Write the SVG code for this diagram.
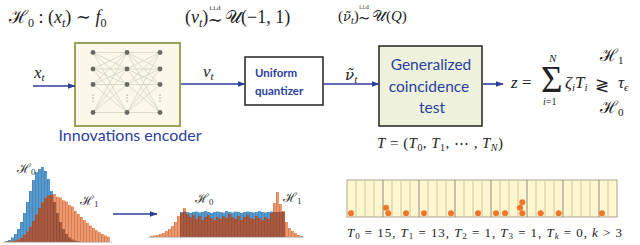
<svg xmlns="http://www.w3.org/2000/svg" width="640" height="245" viewBox="0 0 640 245">
<defs>
<style>
.m{font-family:"Liberation Serif","DejaVu Serif",serif;fill:#222}
.i{font-style:italic}
.dj{font-family:"DejaVu Serif",serif}
.blue{font-family:"Lato","DejaVu Sans",sans-serif;fill:#2b3f9e}
.box{stroke:#222;stroke-width:1.5}
.con{stroke:#2a3e9c;stroke-width:1.6;fill:none}
.nn{stroke:#c4cbb4;stroke-width:0.6}
.nd{fill:#6a6a64}
.cell{stroke:#c9c3a2;stroke-width:0.9}
.cell4{stroke:#8f8b78;stroke-width:1}
.dot{fill:#f27628}
.hb{fill:#4f9bd6}
.ho{fill:#ef966b}
.hr{fill:#a8593f}
.hl{font-family:"Liberation Serif","DejaVu Serif",serif;font-size:13px;fill:#333}
</style>
<pattern id="barsL" x="5" y="0" width="3" height="245" patternUnits="userSpaceOnUse">
<rect x="0" y="0" width="0.6" height="245" fill="#5a3020" fill-opacity="0.35"/>
</pattern>
<pattern id="barsR" x="0" y="0" width="3" height="245" patternUnits="userSpaceOnUse">
<rect x="0" y="0" width="0.6" height="245" fill="#5a3020" fill-opacity="0.35"/>
</pattern>
<marker id="ah" markerWidth="8" markerHeight="6" refX="7.5" refY="3" orient="auto" markerUnits="userSpaceOnUse">
<path d="M0,0 L8,3 L0,6 z" fill="#2a3e9c"/>
</marker>
</defs>
<rect width="640" height="245" fill="#ffffff"/>

<!-- top formulas -->
<g id="hyp">
<text class="m" x="9" y="23" font-size="18">ℋ<tspan font-size="12" dy="4">0</tspan><tspan dy="-4"> : (</tspan><tspan class="i">x</tspan><tspan class="i" font-size="12" dy="4">t</tspan><tspan dy="-4">) ∼ </tspan><tspan class="i">f</tspan><tspan font-size="12" dy="4">0</tspan></text>
</g>
<g id="nu-dist">
<text class="m" x="185" y="23" font-size="18">(<tspan class="i">ν</tspan><tspan class="i" font-size="12" dy="4">t</tspan><tspan dy="-4">)</tspan></text>
<text class="m" x="215" y="10" font-size="7" text-anchor="middle">i.i.d</text>
<text class="m" x="215" y="26" font-size="18" text-anchor="middle">∼</text>
<text class="m" x="225" y="23" font-size="18">𝒰(−1, 1)</text>
</g>
<g id="nutilde-dist">
<text class="m" x="338" y="21" font-size="15" fill="#444">(<tspan class="i dj" font-size="13">ν̃</tspan><tspan class="i" font-size="10" dy="3">t</tspan><tspan dy="-3">)</tspan></text>
<text class="m" x="364" y="9" font-size="6" text-anchor="middle" fill="#444">i.i.d</text>
<text class="m" x="364" y="23" font-size="15" text-anchor="middle" fill="#444">∼</text>
<text class="m" x="372" y="21" font-size="15" fill="#444">𝒰(<tspan class="i">Q</tspan>)</text>
</g>

<!-- encoder -->
<g id="encoder">
<rect x="75" y="43" width="105" height="83" fill="#fbf8e9" stroke="#9aa35a" stroke-width="2"/>
<g class="nn">
<path d="M93,52.5L127,52.5M93,52.5L127,69M93,52.5L127,84.5M93,52.5L127,112.5M93,69L127,52.5M93,69L127,69M93,69L127,84.5M93,69L127,112.5M93,84.5L127,52.5M93,84.5L127,69M93,84.5L127,84.5M93,84.5L127,112.5M93,112.5L127,52.5M93,112.5L127,69M93,112.5L127,84.5M93,112.5L127,112.5"/>
<path d="M127,52.5L160,52.5M127,52.5L160,69M127,52.5L160,84.5M127,52.5L160,112.5M127,69L160,52.5M127,69L160,69M127,69L160,84.5M127,69L160,112.5M127,84.5L160,52.5M127,84.5L160,69M127,84.5L160,84.5M127,84.5L160,112.5M127,112.5L160,52.5M127,112.5L160,69M127,112.5L160,84.5M127,112.5L160,112.5"/>
</g>
<g class="nd">
<circle cx="93" cy="52.5" r="2.4"/><circle cx="93" cy="69" r="2.4"/><circle cx="93" cy="84.5" r="2.4"/><circle cx="93" cy="112.5" r="2.4"/>
<circle cx="127" cy="52.5" r="2.4"/><circle cx="127" cy="69" r="2.4"/><circle cx="127" cy="84.5" r="2.4"/><circle cx="127" cy="112.5" r="2.4"/>
<circle cx="160" cy="52.5" r="2.4"/><circle cx="160" cy="69" r="2.4"/><circle cx="160" cy="84.5" r="2.4"/><circle cx="160" cy="112.5" r="2.4"/>
<circle cx="93" cy="95" r="0.6"/><circle cx="93" cy="98" r="0.6"/><circle cx="93" cy="101" r="0.6"/>
<circle cx="127" cy="95" r="0.6"/><circle cx="127" cy="98" r="0.6"/><circle cx="127" cy="101" r="0.6"/>
<circle cx="160" cy="95" r="0.6"/><circle cx="160" cy="98" r="0.6"/><circle cx="160" cy="101" r="0.6"/>
</g>
<text class="blue" x="130" y="141" font-size="16" text-anchor="middle" textLength="143" lengthAdjust="spacingAndGlyphs">Innovations encoder</text>
</g>

<!-- quantizer -->
<g id="quantizer">
<rect class="box" x="245" y="57" width="78" height="48" fill="#ffffff"/>
<text class="blue" x="255" y="77" font-size="11.5" font-weight="bold">Uniform</text>
<text class="blue" x="255" y="95" font-size="11.5" font-weight="bold">quantizer</text>
</g>

<!-- coincidence test -->
<g id="coincidence-test">
<rect class="box" x="379" y="46" width="103" height="80" fill="#eef2dc"/>
<text class="blue" x="431" y="70" font-size="15.5" text-anchor="middle">Generalized</text>
<text class="blue" x="429" y="92" font-size="15.5" text-anchor="middle">coincidence</text>
<text class="blue" x="432" y="113" font-size="15.5" text-anchor="middle">test</text>
<text class="m" x="377" y="148" font-size="15" textLength="126" lengthAdjust="spacing"><tspan class="i">T</tspan> = (<tspan class="i">T</tspan><tspan font-size="10" dy="3">0</tspan><tspan dy="-3">, </tspan><tspan class="i">T</tspan><tspan font-size="10" dy="3">1</tspan><tspan dy="-3">, ⋯ , </tspan><tspan class="i">T</tspan><tspan class="i" font-size="10" dy="3">N</tspan><tspan dy="-3">)</tspan></text>
</g>

<!-- decision statistic -->
<g id="statistic">
<text class="m i" x="511" y="88" font-size="17">z</text>
<text class="m" x="522" y="88" font-size="17">=</text>
<text class="m" x="541" y="92" font-size="37">Σ</text>
<text class="m i" x="549" y="62" font-size="11">N</text>
<text class="m" x="543" y="105" font-size="10"><tspan class="i">i</tspan>=1</text>
<text class="m" x="565" y="88" font-size="17"><tspan class="i">ζ</tspan><tspan class="i" font-size="11" dy="3">i</tspan><tspan class="i" dy="-3">T</tspan><tspan class="i" font-size="11" dy="3">i</tspan></text>
<text class="m" x="600" y="61" font-size="17">ℋ<tspan font-size="11" dy="3">1</tspan></text>
<text class="m" x="595" y="91" font-size="17">≷</text>
<text class="m i" x="618" y="88" font-size="17">τ<tspan font-size="11" dy="3">ϵ</tspan></text>
<text class="m" x="600" y="113" font-size="17">ℋ<tspan font-size="11" dy="3">0</tspan></text>
</g>

<!-- connectors -->
<g id="connectors">
<line class="con" x1="33" y1="86" x2="75" y2="86" marker-end="url(#ah)"/>
<line class="con" x1="181" y1="84" x2="245" y2="84" marker-end="url(#ah)"/>
<line class="con" x1="323" y1="84" x2="379" y2="84" marker-end="url(#ah)"/>
<line class="con" x1="483" y1="84" x2="503" y2="84" marker-end="url(#ah)"/>
<line class="con" x1="113" y1="214" x2="157" y2="214" marker-end="url(#ah)"/>
</g>
<g id="connector-labels">
<text class="m i" x="34" y="78" font-size="17">x<tspan font-size="11" dy="3">t</tspan></text>
<text class="m i" x="203" y="77" font-size="17">ν<tspan font-size="11" dy="3">t</tspan></text>
<text class="m i" x="345" y="80" font-size="17"><tspan class="dj" font-size="15">ν̃</tspan><tspan font-size="11" dy="3">t</tspan></text>
</g>

<!-- histogram before -->
<g id="hist-before">
<path class="hb" d="M5,242 V241 H8 V240 H11 V237.5 H14 V234 H17 V229 H20 V222 H23 V213 H26 V202 H29 V191 H32 V180 H35 V172 H38 V169 H41 V167 H44 V171 H47 V179 H50 V191 H53 V202 H56 V213 H59 V222 H62 V229 H65 V234 H68 V237.5 H71 V239.6 H74 V240.8 H77 V241.5 H80 V242 Z"/>
<path class="ho" d="M5,242 V241.8 H8 V241.6 H11 V241.3 H14 V240.6 H17 V239.5 H20 V237.7 H23 V235.1 H26 V231.5 H29 V226.7 H32 V221 H35 V214.6 H38 V208.1 H41 V202.2 H44 V197.7 H47 V195.3 H50 V195 H53 V194 H56 V196.7 H59 V197.5 H62 V200.2 H65 V201.5 H68 V205.1 H71 V206.5 H74 V211 H77 V214 H80 V217 H83 V220 H86 V222.8 H89 V225.5 H92 V228 H95 V230.2 H98 V232.2 H101 V233.9 H104 V235.4 H107 V236.7 H110 V242 Z"/>
<path class="hr" d="M5,242 V241.8 H8 V241.6 H11 V241.3 H14 V240.6 H17 V239.5 H20 V237.7 H23 V235.1 H26 V231.5 H29 V226.7 H32 V221 H35 V214.6 H38 V208.1 H41 V202.2 H44 V197.7 H47 V195.3 H50 V195 H53 V202 H56 V213 H59 V222 H62 V229 H65 V234 H68 V237.5 H71 V239.6 H74 V240.8 H77 V241.5 H80 V242 Z"/>
<path fill="url(#barsL)" d="M5,242 V241 H8 V240 H11 V237.5 H14 V234 H17 V229 H20 V222 H23 V213 H26 V202 H29 V191 H32 V180 H35 V172 H38 V169 H41 V167 H44 V171 H47 V179 H50 V191 H53 V202 H56 V213 H59 V222 H62 V229 H65 V234 H68 V237.5 H71 V239.6 H74 V240.8 H77 V241.5 H80 V242 Z"/>
<path fill="url(#barsL)" d="M53,242 V194 H56 V196.7 H59 V197.5 H62 V200.2 H65 V201.5 H68 V205.1 H71 V206.5 H74 V211 H77 V214 H80 V217 H83 V220 H86 V222.8 H89 V225.5 H92 V228 H95 V230.2 H98 V232.2 H101 V233.9 H104 V235.4 H107 V236.7 H110 V242 Z"/>
<line x1="3" y1="242.3" x2="112" y2="242.3" stroke="#999" stroke-width="0.6"/>
<text class="hl" x="17" y="173">ℋ<tspan font-size="9" dy="2">0</tspan></text>
<text class="hl" x="80" y="205">ℋ<tspan font-size="9" dy="2">1</tspan></text>
</g>

<!-- histogram after -->
<g id="hist-after">
<path class="hb" d="M180,237 V212 H183 V211.5 H186 V212 H189 V213 H192 V212 H195 V211.5 H198 V212.5 H201 V212 H204 V211 H207 V212 H210 V213 H213 V212 H216 V211.5 H219 V212 H222 V212.5 H225 V211 H228 V212 H231 V212.5 H234 V211.5 H237 V212 H240 V213 H243 V212 H246 V211.5 H249 V212 H252 V212.5 H255 V212 H258 V211 H261 V212 H264 V212.5 H267 V212 H270 V211.5 H285 V237 Z"/>
<path class="ho" d="M150,237 V236 H153 V235.5 H156 V235 H159 V234 H162 V233 H165 V231 H168 V229 H171 V226 H174 V222 H177 V216 H180 V213 H183 V208 H186 V214 H189 V217 H192 V215 H195 V219 H198 V216 H201 V220 H204 V217 H207 V215 H210 V218 H213 V220 H216 V217 H219 V219 H222 V216 H225 V218 H228 V214 H231 V217 H234 V219 H237 V216 H240 V220 H243 V217 H246 V215 H249 V218 H252 V219 H255 V216 H258 V218 H261 V220 H264 V217 H267 V219 H270 V213 H273 V203 H276 V192 H279 V204 H282 V211 H285 V222 H288 V228 H291 V231 H294 V233 H297 V235 H300 V236 H303 V237 Z"/>
<path class="hr" d="M180,237 V213 H183 V211.5 H186 V214 H189 V217 H192 V215 H195 V219 H198 V216 H201 V220 H204 V217 H207 V215 H210 V218 H213 V220 H216 V217 H219 V219 H222 V216 H225 V218 H228 V214 H231 V217 H234 V219 H237 V216 H240 V220 H243 V217 H246 V215 H249 V218 H252 V219 H255 V216 H258 V218 H261 V220 H264 V217 H267 V219 H270 V213 H273 V212 H285 V237 Z"/>
<path fill="url(#barsR)" d="M150,237 V236 H153 V235.5 H156 V235 H159 V234 H162 V233 H165 V231 H168 V229 H171 V226 H174 V222 H177 V216 H180 V212 H183 V208 H186 V212 H270 V213 H273 V203 H276 V192 H279 V204 H282 V211 H285 V222 H288 V228 H291 V231 H294 V233 H297 V235 H300 V236 H303 V237 Z"/>
<line x1="148" y1="237.3" x2="304" y2="237.3" stroke="#999" stroke-width="0.6"/>
<text class="hl" x="195" y="203">ℋ<tspan font-size="9" dy="2">0</tspan></text>
<text class="hl" x="283" y="202">ℋ<tspan font-size="9" dy="2">1</tspan></text>
</g>

<!-- coincidence strip -->
<g id="strip">
<rect x="347" y="180" width="270" height="37" fill="#fdf6cf" stroke="#a9a590" stroke-width="1"/>
<path class="cell" d="M356,180V217M365,180V217M374,180V217M392,180V217M401,180V217M410,180V217M428,180V217M437,180V217M446,180V217M464,180V217M473,180V217M482,180V217M500,180V217M509,180V217M518,180V217M536,180V217M545,180V217M554,180V217M572,180V217M581,180V217M590,180V217M608,180V217"/>
<path class="cell4" d="M383,180V217M419,180V217M455,180V217M491,180V217M527,180V217M563,180V217M599,180V217"/>
<g class="dot">
<circle cx="351" cy="213.3" r="3"/>
<circle cx="386" cy="207.7" r="3"/>
<circle cx="388.3" cy="213.3" r="3"/>
<circle cx="406" cy="213.3" r="3"/>
<circle cx="424" cy="213.3" r="3"/>
<circle cx="451" cy="213.3" r="3"/>
<circle cx="478" cy="213.3" r="3"/>
<circle cx="496" cy="213.3" r="3"/>
<circle cx="505" cy="213.3" r="3"/>
<circle cx="522.3" cy="202.3" r="3"/>
<circle cx="520" cy="207.7" r="3"/>
<circle cx="522.3" cy="213.3" r="3"/>
<circle cx="540.7" cy="213.3" r="3"/>
<circle cx="558.7" cy="213.3" r="3"/>
<circle cx="602" cy="213.3" r="3"/>
</g>
<text class="m" x="347" y="237" font-size="13" fill="#333" textLength="275" lengthAdjust="spacing"><tspan class="i">T</tspan><tspan font-size="9" dy="2">0</tspan><tspan dy="-2"> = 15,   </tspan><tspan class="i">T</tspan><tspan font-size="9" dy="2">1</tspan><tspan dy="-2"> = 13,   </tspan><tspan class="i">T</tspan><tspan font-size="9" dy="2">2</tspan><tspan dy="-2"> = 1,   </tspan><tspan class="i">T</tspan><tspan font-size="9" dy="2">3</tspan><tspan dy="-2"> = 1,   </tspan><tspan class="i">T</tspan><tspan class="i" font-size="9" dy="2">k</tspan><tspan dy="-2"> = 0, </tspan><tspan class="i">k</tspan> &gt; 3</text>
</g>
</svg>
